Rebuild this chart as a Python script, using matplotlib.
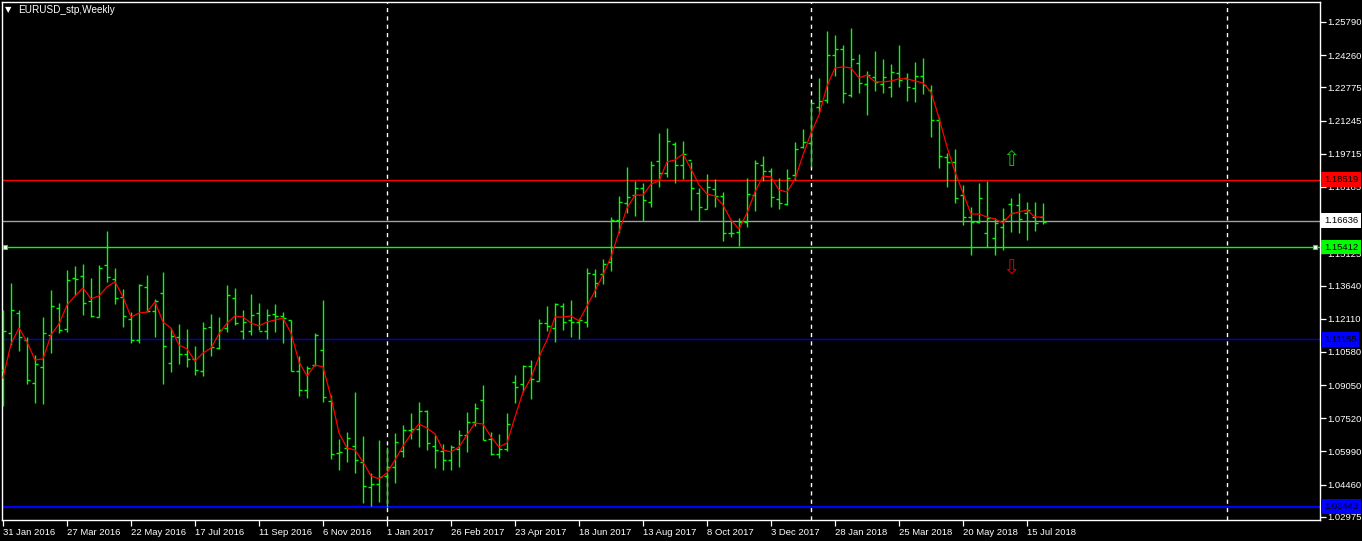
import matplotlib
matplotlib.use("Agg")
import matplotlib.pyplot as plt
import matplotlib.transforms as mtransforms
import numpy as np

#### weekly EURUSD bars, 31 Jan 2016 -> 29 Jul 2018 (one entry per week)

opens = [1.0975, 1.1145, 1.1237, 1.1113, 1.0915, 1.0989, 1.1136, 1.1260, 1.1164, 1.1399,
         1.1408, 1.1293, 1.1219, 1.1459, 1.1395, 1.1312, 1.1210, 1.1113, 1.1358, 1.1247,
         1.1330, 1.1007, 1.1127, 1.1049, 1.1026, 1.0970, 1.1173, 1.1076, 1.1168, 1.1307,
         1.1155, 1.1155, 1.1237, 1.1155, 1.1233, 1.1224, 1.1205, 1.0970, 1.0883, 1.0998,
         1.1067, 1.0832, 1.0592, 1.0615, 1.0624, 1.0551, 1.0436, 1.0450, 1.0486, 1.0528,
         1.0601, 1.0698, 1.0703, 1.0786, 1.0624, 1.0601, 1.0560, 1.0611, 1.0675, 1.0735,
         1.0837, 1.0657, 1.0588, 1.0611, 1.0920, 1.0910, 1.0993, 1.0924, 1.1191, 1.1168,
         1.1270, 1.1205, 1.1196, 1.1196, 1.1418, 1.1418, 1.1473, 1.1666, 1.1744, 1.1781,
         1.1814, 1.1749, 1.1938, 1.1883, 1.2017, 1.1920, 1.1943, 1.1791, 1.1717, 1.1809,
         1.1777, 1.1606, 1.1611, 1.1657, 1.1781, 1.1920, 1.1892, 1.1763, 1.1740, 1.1874,
         1.2003, 1.2021, 1.2187, 1.2219, 1.2427, 1.2455, 1.2243, 1.2390, 1.2293, 1.2326,
         1.2293, 1.2280, 1.2344, 1.2321, 1.2275, 1.2330, 1.2265, 1.2127, 1.1957, 1.1934,
         1.1781, 1.1680, 1.1657, 1.1606, 1.1583, 1.1634, 1.1740, 1.1735, 1.1698, 1.1680,
         1.1680]

highs = [1.1251, 1.1376, 1.1251, 1.1127, 1.1044, 1.1219, 1.1344, 1.1284, 1.1436, 1.1454,
         1.1464, 1.1399, 1.1459, 1.1615, 1.1445, 1.1349, 1.1242, 1.1372, 1.1413, 1.1303,
         1.1427, 1.1168, 1.1187, 1.1164, 1.1086, 1.1196, 1.1233, 1.1219, 1.1367, 1.1353,
         1.1251, 1.1326, 1.1284, 1.1256, 1.1279, 1.1242, 1.1205, 1.1040, 1.0993, 1.1145,
         1.1297, 1.0860, 1.0657, 1.0689, 1.0873, 1.0670, 1.0500, 1.0652, 1.0620, 1.0684,
         1.0721, 1.0777, 1.0827, 1.0790, 1.0675, 1.0634, 1.0629, 1.0698, 1.0781, 1.0823,
         1.0906, 1.0689, 1.0680, 1.0777, 1.0952, 1.0998, 1.1021, 1.1210, 1.1270, 1.1284,
         1.1284, 1.1297, 1.1214, 1.1445, 1.1441, 1.1487, 1.1680, 1.1777, 1.1911, 1.1846,
         1.1837, 1.1938, 1.2067, 1.2090, 1.2026, 1.2030, 1.1934, 1.1814, 1.1878, 1.1855,
         1.1795, 1.1666, 1.1675, 1.1860, 1.1943, 1.1961, 1.1906, 1.1860, 1.1901, 1.2026,
         1.2086, 1.2206, 1.2321, 1.2537, 1.2519, 1.2473, 1.2551, 1.2432, 1.2353, 1.2445,
         1.2409, 1.2386, 1.2473, 1.2344, 1.2395, 1.2413, 1.2289, 1.2141, 1.1975, 1.1994,
         1.1828, 1.1726, 1.1837, 1.1846, 1.1675, 1.1721, 1.1768, 1.1791, 1.1749, 1.1749,
         1.1744]

lows = [1.0809, 1.1090, 1.1063, 1.0910, 1.0823, 1.0818, 1.1053, 1.1145, 1.1150, 1.1321,
        1.1228, 1.1219, 1.1219, 1.1381, 1.1279, 1.1173, 1.1099, 1.1099, 1.1242, 1.1127,
        1.0910, 1.0966, 1.1003, 1.0989, 1.0952, 1.0947, 1.1040, 1.1072, 1.1150, 1.1182,
        1.1118, 1.1136, 1.1159, 1.1118, 1.1150, 1.1099, 1.0970, 1.0855, 1.0846, 1.0993,
        1.0827, 1.0565, 1.0514, 1.0551, 1.0500, 1.0362, 1.0348, 1.0367, 1.0343, 1.0454,
        1.0574, 1.0657, 1.0620, 1.0606, 1.0523, 1.0514, 1.0514, 1.0528, 1.0597, 1.0717,
        1.0652, 1.0583, 1.0569, 1.0601, 1.0823, 1.0873, 1.0841, 1.0924, 1.1155, 1.1104,
        1.1159, 1.1127, 1.1118, 1.1173, 1.1312, 1.1372, 1.1431, 1.1606, 1.1698, 1.1684,
        1.1661, 1.1726, 1.1818, 1.1865, 1.1837, 1.1855, 1.1712, 1.1661, 1.1717, 1.1726,
        1.1569, 1.1588, 1.1546, 1.1634, 1.1707, 1.1846, 1.1726, 1.1717, 1.1735, 1.1851,
        1.1998, 1.1911, 1.2164, 1.2206, 1.2330, 1.2206, 1.2233, 1.2252, 1.2150, 1.2261,
        1.2252, 1.2233, 1.2280, 1.2215, 1.2210, 1.2247, 1.2049, 1.1906, 1.1818, 1.1744,
        1.1643, 1.1505, 1.1652, 1.1541, 1.1505, 1.1528, 1.1611, 1.1606, 1.1574, 1.1615,
        1.1648]

closes = [1.1155, 1.1251, 1.1127, 1.0929, 1.1003, 1.1145, 1.1270, 1.1159, 1.1390, 1.1395,
          1.1284, 1.1224, 1.1445, 1.1404, 1.1307, 1.1224, 1.1113, 1.1367, 1.1247, 1.1293,
          1.1086, 1.1132, 1.1049, 1.1026, 1.0975, 1.1168, 1.1081, 1.1159, 1.1321, 1.1191,
          1.1196, 1.1228, 1.1155, 1.1228, 1.1224, 1.1214, 1.0970, 1.0883, 1.0984, 1.1136,
          1.0850, 1.0588, 1.0597, 1.0661, 1.0560, 1.0440, 1.0450, 1.0482, 1.0528, 1.0643,
          1.0698, 1.0703, 1.0786, 1.0638, 1.0606, 1.0560, 1.0620, 1.0675, 1.0735, 1.0800,
          1.0652, 1.0588, 1.0611, 1.0726, 1.0896, 1.0993, 1.0933, 1.1191, 1.1178, 1.1279,
          1.1196, 1.1196, 1.1205, 1.1422, 1.1376, 1.1464, 1.1666, 1.1749, 1.1772, 1.1814,
          1.1758, 1.1920, 1.1883, 1.2030, 1.1920, 1.1971, 1.1814, 1.1726, 1.1818, 1.1777,
          1.1606, 1.1606, 1.1657, 1.1786, 1.1929, 1.1892, 1.1772, 1.1744, 1.1860, 1.1994,
          1.2026, 1.2206, 1.2215, 1.2427, 1.2455, 1.2252, 1.2409, 1.2298, 1.2335, 1.2303,
          1.2326, 1.2349, 1.2312, 1.2280, 1.2330, 1.2289, 1.2127, 1.1961, 1.1934, 1.1768,
          1.1680, 1.1657, 1.1768, 1.1675, 1.1652, 1.1671, 1.1698, 1.1671, 1.1712, 1.1652,
          1.1657]

# red moving average as drawn on the chart
ma_line = [1.0938, 1.1095, 1.1168, 1.1104, 1.1021, 1.1026, 1.1136, 1.1187, 1.1274, 1.1316,
           1.1353, 1.1303, 1.1316, 1.1358, 1.1381, 1.1312, 1.1219, 1.1237, 1.1242, 1.1288,
           1.1196, 1.1168, 1.1090, 1.1072, 1.1016, 1.1053, 1.1076, 1.1141, 1.1191, 1.1224,
           1.1219, 1.1191, 1.1178, 1.1196, 1.1205, 1.1214, 1.1145, 1.1012, 1.0947, 1.0998,
           1.0989, 1.0850, 1.0684, 1.0615, 1.0606, 1.0551, 1.0486, 1.0473, 1.0500, 1.0560,
           1.0624, 1.0680, 1.0726, 1.0707, 1.0680, 1.0606, 1.0597, 1.0620, 1.0675, 1.0730,
           1.0726, 1.0666, 1.0620, 1.0638, 1.0758, 1.0873, 1.0938, 1.1035, 1.1113, 1.1219,
           1.1219, 1.1224, 1.1201, 1.1270, 1.1339, 1.1413, 1.1496, 1.1611, 1.1721, 1.1781,
           1.1781, 1.1832, 1.1846, 1.1934, 1.1943, 1.1971, 1.1901, 1.1828, 1.1786, 1.1777,
           1.1735, 1.1666, 1.1625, 1.1698, 1.1795, 1.1869, 1.1865, 1.1805, 1.1795, 1.1855,
           1.1966, 1.2067, 1.2150, 1.2284, 1.2367, 1.2372, 1.2367, 1.2321, 1.2335, 1.2303,
           1.2303, 1.2307, 1.2317, 1.2317, 1.2307, 1.2298, 1.2256, 1.2137, 1.2003, 1.1888,
           1.1791, 1.1694, 1.1694, 1.1680, 1.1671, 1.1652, 1.1694, 1.1703, 1.1712, 1.1680,
           1.1680]

date_labels = ["31 Jan 2016", "27 Mar 2016", "22 May 2016", "17 Jul 2016", "11 Sep 2016",
               "6 Nov 2016", "1 Jan 2017", "26 Feb 2017", "23 Apr 2017", "18 Jun 2017",
               "13 Aug 2017", "8 Oct 2017", "3 Dec 2017", "28 Jan 2018", "25 Mar 2018",
               "20 May 2018", "15 Jul 2018"]

# 1.16655 sits under the 1.16636 level box in the original, so it is left out
price_ticks = [1.25790, 1.24260, 1.22775, 1.21245, 1.19715, 1.18185, 1.15125,
               1.13640, 1.12110, 1.10580, 1.09050, 1.07520, 1.05990, 1.04460, 1.02975]

# horizontal levels (price, line colour, label box colour, line width)
levels = [(1.18519, "#ff0000", "#ff0000", 1.0),
          (1.16636, "#a0a0a4", "#ffffff", 1.0),
          (1.15412, "#00ff00", "#00ff00", 1.0),
          (1.11155, "#0000d0", "#0000ff", 1.0),
          (1.03443, "#0000ff", "#0000ff", 1.6)]

year_breaks = [48, 101, 153]       # bar index of first week of 2017, 2018, 2019
arrow_up = (126, 1.1943)
arrow_down = (126, 1.1445)

LW = 1.0
W, H = 1362, 541
fig = plt.figure(figsize=(W / 100, H / 100), dpi=100, facecolor="black")
ax = fig.add_axes([2 / W, (H - 520) / H, 1318 / W, 518 / H], facecolor="black")

idx = np.arange(len(opens))
bar_col = "#00ff00"
ax.vlines(idx, lows, highs, color=bar_col, lw=LW, zorder=3)
ax.hlines(opens, idx - 0.4, idx, color=bar_col, lw=LW, zorder=3)
ax.hlines(closes, idx, idx + 0.4, color=bar_col, lw=LW, zorder=3)
ax.plot(idx, ma_line, color="red", lw=0.9, zorder=4)

for xb in year_breaks:
    ax.axvline(xb, color="white", lw=LW, ls=(0, (3, 3)), zorder=1)

blend = mtransforms.blended_transform_factory(ax.transAxes, ax.transData)
for price, lc, bc, lw in levels:
    ax.axhline(price, color=lc, lw=lw, zorder=2)
    ax.text(1.003, price, "%.5f" % price, transform=blend, ha="left", va="center",
            fontsize=6.8, family="Liberation Sans", color="black", zorder=10, clip_on=False,
            bbox=dict(boxstyle="square,pad=0.3", fc=bc, ec="none"))

# small handles on the green line
ax.plot([0.002, 0.9965], [levels[2][0]] * 2, transform=blend, ls="none", marker="s",
        ms=3.5, mfc="white", mec=bar_col, mew=0.8, zorder=6, clip_on=False)

ax.text(arrow_up[0], arrow_up[1], "\u21e7", color="#00c000", fontsize=15, ha="center",
        va="center", zorder=5)
ax.text(arrow_down[0], arrow_down[1], "\u21e9", color="#d00000", fontsize=15, ha="center",
        va="center", zorder=5)

ax.set_xlim(-0.125, 164.625)
ax.set_ylim(1.02832, 1.26712)

ax.set_xticks(np.arange(len(date_labels)) * 8)
ax.set_xticklabels(date_labels)
ax.set_yticks(price_ticks)
ax.set_yticklabels(["%.5f" % p for p in price_ticks])
ax.yaxis.tick_right()
ax.tick_params(axis="both", colors="white", direction="out", length=4, width=0.9,
               labelsize=6.8)
ax.tick_params(axis="x", pad=2)
ax.tick_params(axis="y", pad=1.5)
for lab in ax.get_xticklabels():
    lab.set_ha("left")
    lab.set_family("Liberation Sans")
for lab in ax.get_yticklabels():
    lab.set_family("Liberation Sans")

for sp in ax.spines.values():
    sp.set_color("white")
    sp.set_linewidth(1.0)

fig.text(5 / W, 1 - 10 / H, "\u25bc", color="white", fontsize=6, va="center", ha="left")
fig.text(18 / W, 1 - 10 / H, "EURUSD_stp,Weekly", color="white", fontsize=7.2,
         family="Liberation Sans", va="center", ha="left")

fig.savefig("out.png", dpi=100, facecolor="black")
